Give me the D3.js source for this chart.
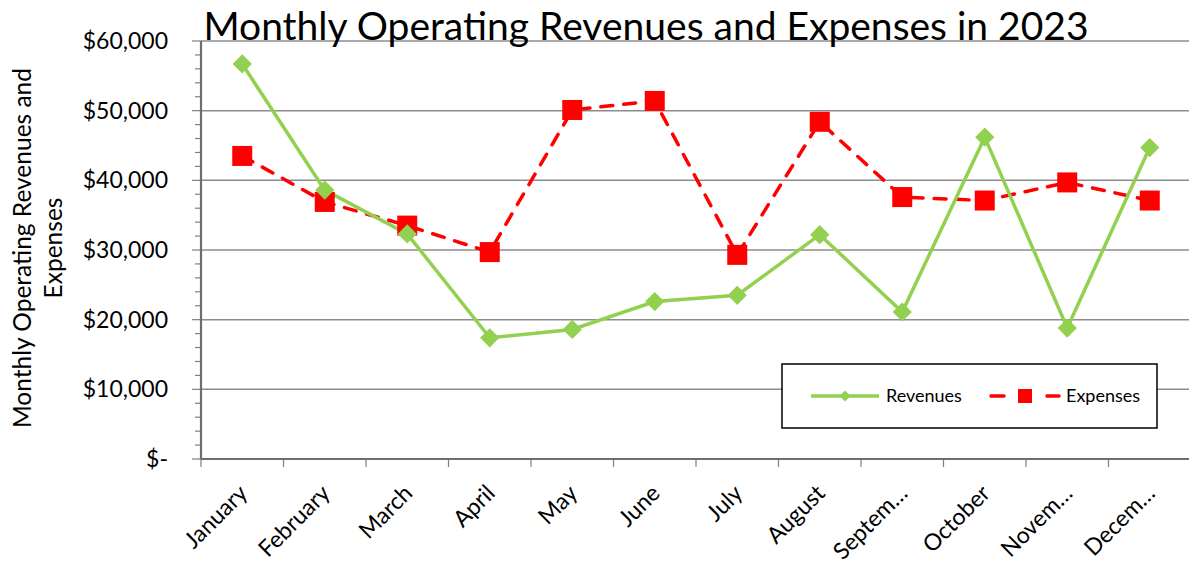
<!DOCTYPE html>
<html>
  <head>
    <title>Monthly Operating Revenues and Expenses in 2023</title>
  </head>
  <body>
    <style>
      body, html {
        margin: 0;
        padding: 0;
        background: #fff;
      }
      svg text {
        font-family: Lato, "Open Sans", sans-serif;
        fill: #000;
      }
    </style>

    <svg id="svg" width="1189" height="561"></svg>

    <script src="https://cdn.jsdelivr.net/npm/d3@7"></script>
    <script>
      const months = ['January', 'February', 'March', 'April', 'May', 'June',
        'July', 'August', 'September', 'October', 'November', 'December'];
      const monthLabels = ['January', 'February', 'March', 'April', 'May', 'June',
        'July', 'August', 'Septem…', 'October', 'Novem…', 'Decem…'];
      const revenues = [56700, 38600, 32300, 17400, 18600, 22600,
        23500, 32200, 21100, 46200, 18800, 44700];
      const expenses = [43500, 36900, 33500, 29700, 50100, 51400,
        29300, 48400, 37600, 37100, 39700, 37100];
      const yTicks = [0, 10000, 20000, 30000, 40000, 50000, 60000];

      const svg = d3.select('#svg');
      const plotLeft = 201, plotRight = 1191, plotTop = 41, plotBottom = 459;

      const xscale = d3.scaleBand().domain(months).range([plotLeft, plotRight]);
      const yscale = d3.scaleLinear().domain([0, 60000]).range([plotBottom, plotTop]);
      const cx = m => xscale(m) + xscale.bandwidth() / 2;

      // gridlines
      svg.append('g')
        .selectAll('line')
        .data(yTicks.slice(1))
        .join('line')
        .attr('x1', plotLeft).attr('x2', plotRight)
        .attr('y1', d => yscale(d)).attr('y2', d => yscale(d))
        .attr('stroke', '#8c8c8c')
        .attr('stroke-width', 1.5);

      // minor ticks on y axis
      svg.append('g')
        .selectAll('line')
        .data(d3.range(0, 60001, 2000))
        .join('line')
        .attr('x1', d => d % 10000 === 0 ? 192 : 195).attr('x2', plotLeft)
        .attr('y1', d => yscale(d)).attr('y2', d => yscale(d))
        .attr('stroke', '#7f7f7f')
        .attr('stroke-width', 1.2);

      // y axis labels
      const fmt = d => d === 0 ? '$-' : '$' + d3.format(',')(d);
      const leftAxis = d3.axisLeft(yscale).tickValues(yTicks).tickFormat(fmt).tickSize(0).tickPadding(33);
      const ya = svg.append('g').attr('transform', `translate(${plotLeft},0)`).call(leftAxis);
      ya.select('.domain').remove();
      ya.selectAll('text')
        .style('font-family', 'Lato, sans-serif')
        .style('font-size', '23px')
        .attr('fill', '#000');

      // x axis
      const xa = svg.append('g').attr('transform', `translate(0,${plotBottom})`);
      xa.selectAll('line')
        .data(d3.range(13))
        .join('line')
        .attr('x1', i => plotLeft + i * xscale.bandwidth())
        .attr('x2', i => plotLeft + i * xscale.bandwidth())
        .attr('y1', 0).attr('y2', 8)
        .attr('stroke', '#7f7f7f')
        .attr('stroke-width', 1.2);
      xa.selectAll('text')
        .data(months)
        .join('text')
        .attr('transform', d => `translate(${cx(d) + 1},${30}) rotate(-45)`)
        .attr('text-anchor', 'end')
        .attr('dy', '0.35em')
        .style('font-size', '23px')
        .text((d, i) => monthLabels[i]);

      // axis lines
      svg.append('line')
        .attr('x1', plotLeft).attr('x2', plotRight)
        .attr('y1', plotBottom).attr('y2', plotBottom)
        .attr('stroke', '#6d6d6d').attr('stroke-width', 2.2);
      svg.append('line')
        .attr('x1', plotLeft).attr('x2', plotLeft)
        .attr('y1', plotTop).attr('y2', plotBottom)
        .attr('stroke', '#6d6d6d').attr('stroke-width', 2.2);

      const green = '#92d050';
      const red = '#ff0000';

      const line = d3.line()
        .x((d, i) => cx(months[i]))
        .y(d => yscale(d));

      // expenses
      svg.append('path')
        .datum(expenses)
        .attr('d', line)
        .attr('fill', 'none')
        .attr('stroke', red)
        .attr('stroke-width', 3.5)
        .attr('stroke-linecap', 'round')
        .attr('stroke-dasharray', '12,11');

      // revenues
      svg.append('path')
        .datum(revenues)
        .attr('d', line)
        .attr('fill', 'none')
        .attr('stroke', green)
        .attr('stroke-width', 3.5);

      const diamond = d3.symbol().type(d3.symbolSquare).size(185);

      svg.append('g')
        .selectAll('rect')
        .data(expenses)
        .join('rect')
        .attr('x', (d, i) => cx(months[i]) - 10)
        .attr('y', d => yscale(d) - 10)
        .attr('width', 20).attr('height', 20)
        .attr('fill', red);

      svg.append('g')
        .selectAll('path')
        .data(revenues)
        .join('path')
        .attr('d', diamond)
        .attr('transform', (d, i) => `translate(${cx(months[i])},${yscale(d)}) rotate(45)`)
        .attr('fill', green);

      // title
      svg.append('text')
        .attr('x', 646)
        .attr('y', 40)
        .attr('text-anchor', 'middle')
        .style('font-size', '39px')
        .text('Monthly Operating Revenues and Expenses in 2023');

      // y axis title
      const yt = svg.append('text')
        .attr('transform', 'translate(0,248) rotate(-90)')
        .attr('text-anchor', 'middle')
        .style('font-size', '24.5px');
      yt.append('tspan').attr('x', 0).attr('y', 31).text('Monthly Operating Revenues and');
      yt.append('tspan').attr('x', 0).attr('y', 62).text('Expenses');

      // legend
      const lg = svg.append('g');
      lg.append('rect')
        .attr('x', 782).attr('y', 364)
        .attr('width', 375).attr('height', 64)
        .attr('fill', '#fff')
        .attr('stroke', '#000')
        .attr('stroke-width', 1.5);
      lg.append('line')
        .attr('x1', 811).attr('x2', 879).attr('y1', 396).attr('y2', 396)
        .attr('stroke', green).attr('stroke-width', 3.5);
      lg.append('path')
        .attr('d', d3.symbol().type(d3.symbolSquare).size(60))
        .attr('transform', 'translate(845,396) rotate(45)')
        .attr('fill', green);
      lg.append('text').attr('x', 886).attr('y', 396).attr('dy', '0.35em')
        .style('font-size', '18px').text('Revenues');
      lg.append('line')
        .attr('x1', 991).attr('x2', 1004).attr('y1', 396).attr('y2', 396)
        .attr('stroke', red).attr('stroke-width', 3.5).attr('stroke-linecap', 'round');
      lg.append('line')
        .attr('x1', 1047).attr('x2', 1059).attr('y1', 396).attr('y2', 396)
        .attr('stroke', red).attr('stroke-width', 3.5).attr('stroke-linecap', 'round');
      lg.append('rect')
        .attr('x', 1018).attr('y', 389).attr('width', 14).attr('height', 14)
        .attr('fill', red);
      lg.append('text').attr('x', 1066).attr('y', 396).attr('dy', '0.35em')
        .style('font-size', '18px').text('Expenses');
    </script>
  </body>
</html>
